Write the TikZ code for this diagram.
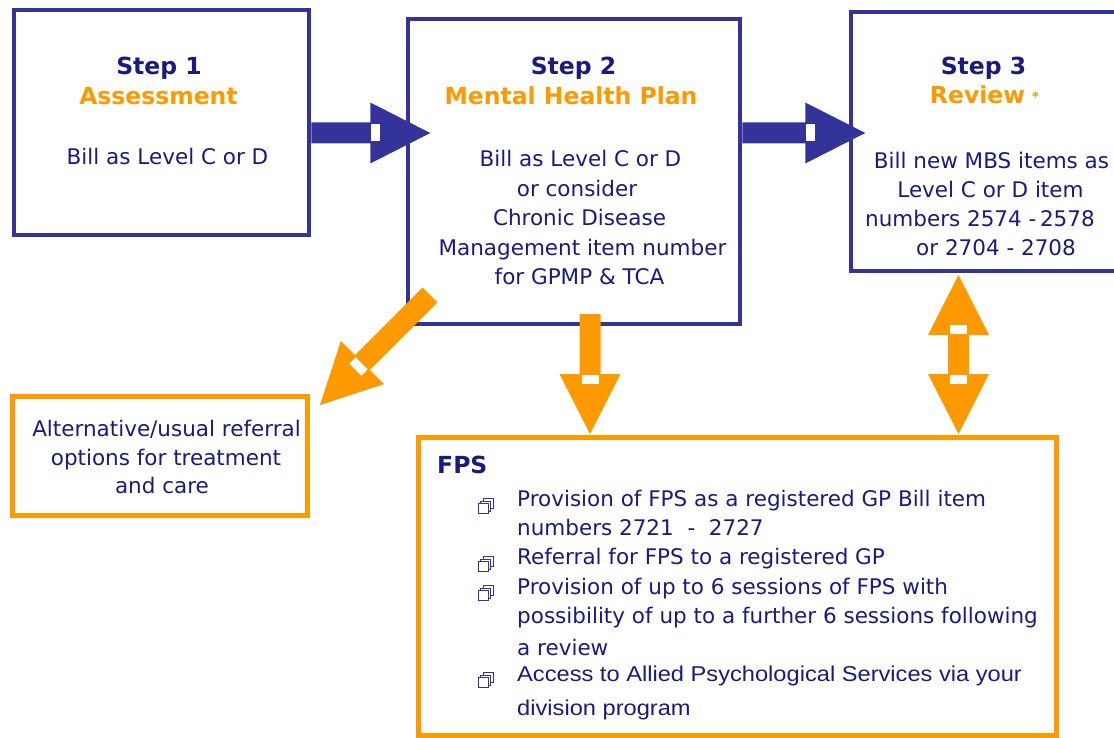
\documentclass[tikz,border=0pt]{standalone}
\usepackage{fontspec}
\setmainfont{DejaVu Sans}
\newfontfamily\narrowfont[FakeStretch=1.1]{Liberation Sans}
\definecolor{navy}{RGB}{51,51,153}
\definecolor{ink}{RGB}{26,26,128}
\definecolor{orng}{RGB}{255,153,0}
\newcommand\blockarrow[4]{%
  \begin{scope}[shift={(#2)}, rotate=#3]
    \fill[#1] (0,-10.5) -- ({#4-60},-10.5) -- ({#4-60},-30.5) -- (#4,0) -- ({#4-60},30.5) -- ({#4-60},10.5) -- (0,10.5) -- cycle;
    \fill[white] ({#4-59},-8.5) rectangle ({#4-50},8.5);
  \end{scope}}
\newcommand\docicon[2]{%
  \begin{scope}[shift={(#1,#2)}]
    \foreach \d in {5,2.5,0}
      \draw[navy, line width=0.7pt, fill=white] ({-7.5+\d},{-3.5-\d}) rectangle ({2.5+\d},{6.5-\d});
  \end{scope}}
\tikzset{
  navybox/.style={draw=navy, line width=4.5pt, fill=white, inner sep=0pt},
  orngbox/.style={draw=orng, line width=5pt, fill=white, inner sep=0pt},
  txt/.style={text=ink, inner sep=0pt, anchor=base, font=\fontsize{21.5}{26}\selectfont},
  ttl/.style={txt, font=\fontsize{23.5}{28}\selectfont\bfseries},
  otl/.style={ttl, text=orng},
  ltxt/.style={txt, anchor=base west},
  ntxt/.style={ltxt, font=\fontsize{21.5}{26}\selectfont\narrowfont}
}
\begin{document}
\begin{tikzpicture}[x=1pt, y=-1pt]
\clip (0,0) rectangle (1114,738);
\fill[white] (0,0) rectangle (1114,738);
% boxes
\node[navybox, minimum width=295pt, minimum height=225pt] (box1) at (161.5,122.5) {};
\node[navybox, minimum width=332pt, minimum height=305pt] (box2) at (574,171.5) {};
\node[navybox, minimum width=274pt, minimum height=259pt] (box3) at (988,141.5) {};
\node[orngbox, minimum width=295pt, minimum height=119pt] (alt) at (159.5,455.5) {};
\node[orngbox, minimum width=638pt, minimum height=298pt] (fps) at (737,586) {};
% box 1 text
\node[ttl] (s1) at (159,75) {Step 1};
\node[otl] (t1) at (158.5,105) {Assessment};
\node[txt] (b1) at (167.5,165) {Bill as Level C or D};
% box 2 text
\node[ttl] (s2) at (573.5,75) {Step 2};
\node[otl] (t2) at (571,105) {Mental Health Plan};
\node[txt] (b2a) at (580.5,167) {Bill as Level C or D};
\node[txt] (b2b) at (577,197) {or consider};
\node[txt] (b2c) at (579.5,226) {Chronic Disease};
\node[txt] (b2d) at (582.5,255) {Management item number};
\node[txt] (b2e) at (579.5,284) {for GPMP \& TCA};
% box 3 text
\node[ttl] (s3) at (983.5,75) {Step 3};
\node[otl] (t3) at (977.5,104) {Review};
\node[text=orng, inner sep=0pt, font=\fontsize{13}{13}\selectfont\bfseries] (ast) at (1035.5,97) {*};
\node[txt] (b3a) at (991.5,169) {Bill new MBS items as};
\node[txt] (b3b) at (990.5,198) {Level C or D item};
\node[ltxt] (b3c) at (865,227) {numbers 2574 -\,2578};
\node[ltxt] (b3d) at (916,255) {or 2704 - 2708};
% alternative box text
\node[txt] (a1) at (166.5,436) {Alternative/usual referral};
\node[txt] (a2) at (166,465) {options for treatment};
\node[txt] (a3) at (162,493) {and care};
% FPS box text
\node[ttl, anchor=base west] (fpsh) at (437,473) {FPS};
\node[ltxt] (f1a) at (517,506) {Provision of FPS as a registered GP Bill item};
\node[ltxt] (f1b) at (517,535) {numbers 2721\ \ -\ \ 2727};
\node[ltxt] (f2) at (517,564) {Referral for FPS to a registered GP};
\node[ltxt] (f3a) at (517,594) {Provision of up to 6 sessions of FPS with};
\node[ltxt] (f3b) at (517,623) {possibility of up to a further 6 sessions following};
\node[ltxt] (f3c) at (517,655) {a review};
\node[ntxt] (f4a) at (517,681) {Access to Allied Psychological Services via your};
\node[ntxt] (f4b) at (517,715) {division program};
\docicon{485.5}{507}
\docicon{485.5}{565}
\docicon{485.5}{594}
\docicon{485.5}{681}
% arrows
\coordinate (a1s) at (box1.east |- 0,133);
\coordinate (a2s) at (box2.east |- 0,133);
\coordinate (a3s) at (430,295);
\coordinate (a4s) at (590,314);
\coordinate (a5s) at (958.5,355);
\blockarrow{navy}{a1s}{0}{119}
\blockarrow{navy}{a2s}{0}{123}
\blockarrow{orng}{a3s}{225}{155.6}
\blockarrow{orng}{a4s}{-90}{120}
\blockarrow{orng}{a5s}{90}{80}
\blockarrow{orng}{a5s}{-90}{79}
\end{tikzpicture}
\end{document}
